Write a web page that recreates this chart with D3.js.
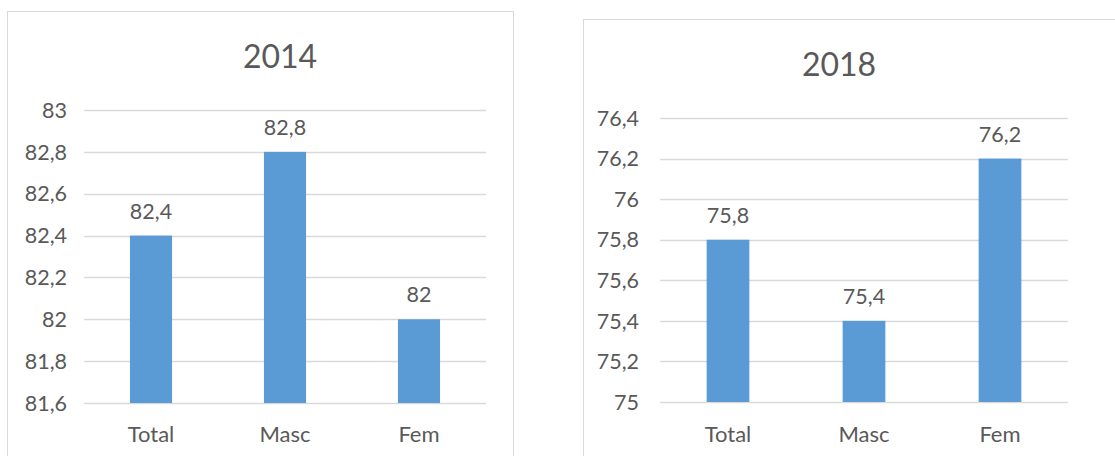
<!DOCTYPE html>
<html>
<head>
<meta charset="utf-8">
<script src="https://cdn.jsdelivr.net/npm/d3@7"></script>
<style>
  html, body { margin: 0; padding: 0; background: #fff; }
  svg { display: block; font-family: Lato, "Open Sans", sans-serif; }
</style>
</head>
<body>
<svg id="chart" width="1115" height="456"></svg>
<script>
// data
var categories = ['Total', 'Masc', 'Fem'];
var values2014 = [82.4, 82.8, 82];
var values2018 = [75.8, 75.4, 76.2];
var ticks2014 = [81.6, 81.8, 82, 82.2, 82.4, 82.6, 82.8, 83];
var ticks2018 = [75, 75.2, 75.4, 75.6, 75.8, 76, 76.2, 76.4];

var barColor = '#5b9bd5';
var textColor = '#595959';
var gridColor = '#d9d9d9';

var locale = d3.formatLocale({ decimal: ',', thousands: '.', grouping: [3], currency: ['', ''] });
var fmt = locale.format('.4~r');

var svg = d3.select('#chart');
svg.append('rect').attr('width', 1115).attr('height', 456).attr('fill', '#fff');

var panels = [
  { title: '2014', values: values2014, ticks: ticks2014,
    box: [7.5, 11.5, 506, 470], titleX: 280, titleY: 68, labelGap: 17,
    x0: 84, x1: 486, yTop: 110, yBottom: 403 },
  { title: '2018', values: values2018, ticks: ticks2018,
    box: [583.5, 19.5, 560, 470], titleX: 839, titleY: 76, labelGap: 21,
    x0: 660, x1: 1068, yTop: 118, yBottom: 402 }
];

panels.forEach(function (p) {
  var g = svg.append('g');

  g.append('rect')
    .attr('x', p.box[0]).attr('y', p.box[1])
    .attr('width', p.box[2]).attr('height', p.box[3])
    .attr('fill', '#fff').attr('stroke', gridColor).attr('stroke-width', 1);

  g.append('text')
    .attr('x', p.titleX).attr('y', p.titleY)
    .attr('text-anchor', 'middle')
    .attr('font-size', 32).attr('fill', textColor)
    .text(p.title);

  var x = d3.scaleBand().domain(categories).range([p.x0, p.x1])
    .paddingInner(0.686).paddingOuter(0.343);
  var y = d3.scaleLinear().domain(d3.extent(p.ticks)).range([p.yBottom, p.yTop]);

  // gridlines
  g.selectAll('line.grid').data(p.ticks).enter().append('line')
    .attr('class', 'grid')
    .attr('x1', p.x0).attr('x2', p.x1)
    .attr('y1', function (d) { return Math.round(y(d)) + 0.5; })
    .attr('y2', function (d) { return Math.round(y(d)) + 0.5; })
    .attr('stroke', gridColor).attr('stroke-width', 1.5);

  // y tick labels
  g.selectAll('text.ytick').data(p.ticks).enter().append('text')
    .attr('class', 'ytick')
    .attr('x', p.x0 - p.labelGap).attr('y', function (d) { return y(d); })
    .attr('dy', '0.36em').attr('text-anchor', 'end')
    .attr('font-size', 21.5).attr('fill', textColor)
    .text(function (d) { return fmt(d); });

  // bars
  g.selectAll('rect.bar').data(p.values).enter().append('rect')
    .attr('class', 'bar')
    .attr('x', function (d, i) { return x(categories[i]); })
    .attr('width', x.bandwidth())
    .attr('y', function (d) { return y(d); })
    .attr('height', function (d) { return y(p.ticks[0]) - y(d); })
    .attr('fill', barColor);

  // data labels
  g.selectAll('text.val').data(p.values).enter().append('text')
    .attr('class', 'val')
    .attr('x', function (d, i) { return x(categories[i]) + x.bandwidth() / 2; })
    .attr('y', function (d) { return y(d) - 17; })
    .attr('text-anchor', 'middle')
    .attr('font-size', 21.5).attr('fill', textColor)
    .text(function (d) { return fmt(d); });

  // category labels
  g.selectAll('text.cat').data(categories).enter().append('text')
    .attr('class', 'cat')
    .attr('x', function (d) { return x(d) + x.bandwidth() / 2; })
    .attr('y', 442)
    .attr('text-anchor', 'middle')
    .attr('font-size', 22).attr('fill', textColor)
    .text(function (d) { return d; });
});
</script>
</body>
</html>
